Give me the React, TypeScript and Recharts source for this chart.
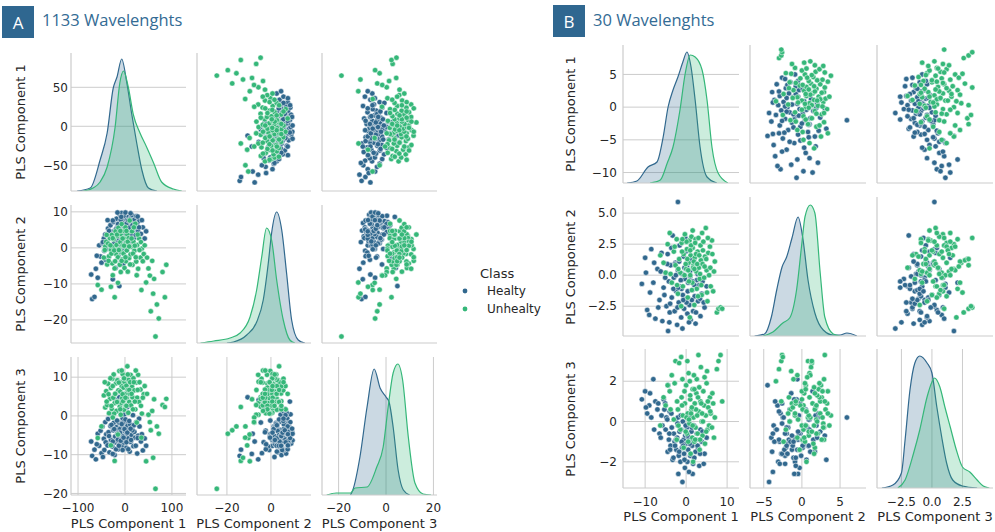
import React from 'react';
import { ComposedChart, Scatter, Area, XAxis, YAxis, CartesianGrid } from 'recharts';

const HEALTY = '#31688e';
const UNHEALTY = '#35b779';
const GRID = '#cccccc';
const INK = '#262626';
const BADGE = '#2f6790';

const classNames = ['Healty', 'Unhealty'];
const componentNames = ['PLS Component 1', 'PLS Component 2', 'PLS Component 3'];

// samples: [PLS 1, PLS 2, PLS 3]
const healtyA = [
  [-72, -7.4, -6.6], [-70, -14.2, -10.3], [-65, -13.6, -8.7], [-62, -5.8, -11.2], [-58, -8.3, -4.6], [-55, 0.7, -7.7],
  [-52, -2.4, -3.8], [-50, -4.1, -9.6], [-48, 1.3, -2.7], [-45, 2.6, -5.9], [-44, -0.8, -8.8], [-42, 3.7, -1.6],
  [-40, -0.3, -4.7], [-38, 1.8, -7.3], [-36, 5.4, -0.8], [-35, -2.7, -4.2], [-33, 3.2, -9.4], [-31, 6.3, -2.6],
  [-30, 0.6, -6.2], [-28, 4.4, 0.3], [-27, -1.3, -7.9], [-25, 7.2, -3.7], [-24, 2.3, -1.8], [-22, 4.8, -10.1],
  [-21, -0.4, -5.3], [-20, 3.3, -6.8], [-18, 8.1, -2.9], [-17, 5.7, 1.2], [-16, 1.6, -6.4], [-15, 4.2, -3.6],
  [-14, -2.3, -8.6], [-13, 6.8, -1.7], [-12, 5.3, -4.8], [-11, 9.2, -7.1], [-10, 2.8, -3.3], [-9, 6.4, 1.8],
  [-8, 0.9, -5.7], [-7, 9.7, -4.3], [-6, 3.6, -7.6], [-5, 7.4, -0.6], [-4, 1.7, -5.2], [-3, 8.3, -2.8],
  [-2, 4.7, -6.9], [-1, 8.9, 0.4], [0, 3.1, -3.9], [1, 9.8, -6.3], [2, 6.2, -1.9], [3, 4.3, -8.2],
  [4, 7.7, -4.6], [5, 1.9, -2.6], [6, 7.1, 0.8], [7, 4.6, -5.8], [8, 8.6, -3.7], [10, 2.7, -9.2],
  [11, 5.9, -2.2], [12, 8.2, -6.7], [14, 3.8, -4.9], [15, 9.1, -3.2], [17, 6.6, 0.2], [18, 4.9, -7.8],
  [20, 7.8, -4.1], [22, 5.6, -5.6], [24, 8.8, -1.6], [26, 6.9, -9.7], [28, 4.6, -5.1], [31, 7.6, -2.7],
  [34, 3.9, -6.6], [38, 5.7, -8.9], [42, 2.6, -5.8], [-8, -3.7, 3.2], [-20, -5.6, 4.1], [5, -2.8, 2.3],
  [-12, -10.6, 4.8], [-26, -8.7, -9.8], [-4, -4.6, -1.7],
  [-34, 4.7, -5.2], [-29, 2.8, -2.3], [-26, 7.6, -6.6], [-23, 1.2, -3.4], [-19, 5.2, -8.6], [-17, -0.3, -1.2],
  [-15, 6.6, -6.1], [-13, 2.6, -7.7], [-11, 0.7, -4.3], [-9, 7.8, -6.4], [-7, 2.3, -2.1], [-5, 5.1, -8.8],
  [-3, -0.4, -5.6], [-1, 5.8, -3.4], [1, 3.7, -0.9], [3, 6.7, -6.8], [5, 5.3, -4.3], [7, 7.6, -8.6],
  [9, 5.6, -1.3], [13, 1.8, -6.2], [16, 6.3, -3.7], [19, 2.7, -2.4], [23, 3.6, -7.7], [27, 8.7, -5.7],
  [30, 5.7, -0.7], [-41, -3.3, -6.8], [-47, 1.6, -10.6], [-60, -2.2, -7.3], [-37, 7.7, -7.6], [-8, 8.6, 3.7],
  [-16, 9.8, -4.6], [12, 9.6, -3.3], [36, 7.7, -4.7], [45, 4.6, -7.7],
];

const unhealtyA = [
  [-45, -2.7, 5.3], [-42, 0.4, 2.2], [-40, 1.7, 6.4], [-38, -4.6, 2.8], [-36, 1.2, 8.3], [-34, -2.3, 0.7],
  [-32, 2.7, 4.4], [-30, -0.6, 7.2], [-28, 3.6, 1.8], [-27, -4.3, 9.6], [-25, 0.2, 4.7], [-24, 2.4, 10.7],
  [-22, -5.7, 3.3], [-20, 4.6, 5.8], [-19, -1.7, 8.4], [-18, 0.8, 1.3], [-16, 3.3, 9.2], [-15, -2.6, 3.7],
  [-14, 5.6, 6.6], [-12, -0.3, 11.6], [-11, -4.7, 2.4], [-10, 1.6, 6.3], [-9, 3.8, 8.7], [-8, -1.2, 3.4],
  [-7, 6.6, 7.7], [-6, -3.2, 4.6], [-5, 0.7, 10.8], [-4, 4.7, 3.8], [-3, -1.6, 7.3], [-2, 2.7, 1.6],
  [-1, -5.6, 8.8], [0, 0.3, 5.7], [1, 5.7, 9.6], [2, -3.7, 2.7], [3, 1.6, 7.8], [4, -0.7, 4.6],
  [5, 3.7, 12.8], [6, -6.6, 6.7], [7, 0.6, 0.8], [8, 2.7, 9.3], [9, -2.8, 3.6], [10, 7.6, 5.7],
  [12, -1.8, 10.6], [13, 0.3, 2.7], [15, 4.6, 7.6], [16, -4.7, 4.8], [18, 1.7, 9.7], [20, -0.8, 6.6],
  [22, 6.7, 1.7], [24, -3.8, 8.6], [26, 0.8, 4.7], [28, -5.8, 10.6], [30, 2.6, 3.6], [33, -2.7, 6.8],
  [36, -0.2, 0.6], [40, -1.7, 5.6], [-58, -10.3, -5.7], [-50, -11.6, -2.7], [-30, -10.8, -7.6], [-22, -13.7, -11.6],
  [-15, -9.7, -4.8], [25, -7.6, -1.7], [35, -11.7, -5.6], [45, -9.6, -11.7], [50, -5.7, 0.3], [55, -17.6, -3.7],
  [60, -12.7, -10.8], [62, -8.6, 4.3], [65, -24.6, -18.8], [68, -15.7, -2.7], [72, -19.6, -4.6], [80, -6.7, 2.8],
  [85, -13.7, 2.3], [88, -4.7, 4.4],
  [-43, -0.6, 8.7], [-39, 3.6, 3.7], [-35, -3.6, 5.6], [-31, 0.7, 9.7], [-29, -1.6, 2.6], [-26, 2.7, 7.7],
  [-23, -0.7, 0.6], [-21, -3.7, 5.7], [-17, 3.7, 3.6], [-13, -0.6, 8.6], [-10, 4.7, 1.7], [-7, -3.6, 11.7],
  [-5, 2.6, 5.6], [-2, 0.6, 9.7], [1, -2.6, 4.7], [3, 4.7, 2.6], [6, 1.7, 10.7], [9, 0.4, 6.7],
  [11, -4.6, 8.7], [14, 2.6, 5.7], [17, -1.6, 1.7], [19, 5.7, 8.7], [21, 0.6, 3.7], [23, -2.6, 11.7],
  [27, 3.7, 6.7], [31, -0.6, 8.7], [34, 1.6, 2.6], [38, -3.7, 4.7], [42, 0.7, 7.7], [47, -2.7, 5.7],
  [-9, -6.7, 0.3], [-26, -7.6, -0.4], [53, -7.7, -1.6], [58, -3.6, 1.3],
];

const healtyB = [
  [-10.8, -0.7, 1.1], [-10, 1.4, 1.5], [-9.5, -2.8, 0.4], [-9, -3.2, 0.8], [-8.5, 2.1, 0.2],
  [-8, -0.6, 2.1], [-7.5, -3.5, 1.0], [-7, 0.5, 0.6], [-6.5, -2.0, -0.6], [-6, 1.8, 0.3],
  [-5.8, -3.7, -0.2], [-5.5, -1.0, 1.1], [-5, 0.2, -0.4], [-4.8, -2.5, 0.2], [-4.5, 1.7, -1.5],
  [-4.2, -0.5, -0.9], [-4, -3.0, 0.5], [-3.8, 0.8, -1.2], [-3.5, -1.8, -0.3], [-3.3, 3.2, -1.9],
  [-3, -0.2, -0.6], [-2.8, -2.9, -1.0], [-2.6, 1.0, 0.1], [-2.4, -1.3, -1.4], [-2.2, -4.0, -0.8],
  [-2, 0.4, -0.2], [-1.8, -2.2, -1.7], [-1.6, 2.4, -0.5], [-2, 5.9, 0.2], [-1.4, -0.9, -2.0],
  [-1.2, -3.4, -0.4], [-1, 0.1, -1.3], [-0.9, -4.3, -3.0], [-0.8, -1.6, 0.0], [-0.6, 1.5, -0.9],
  [-0.5, -2.7, -1.6], [-0.3, -0.3, -2.3], [-0.2, 3.0, -0.7], [0, -1.9, -1.1], [0.2, 0.7, -0.3],
  [0.3, -3.1, -2.0], [0.5, -0.6, -1.4], [0.6, 2.0, -0.8], [0.8, -2.4, 0.2], [1, -0.1, -1.7],
  [1.1, -3.6, -1.0], [1.3, 1.2, -0.5], [1.5, -1.2, -1.2], [1.7, -2.9, -2.1], [1.9, 0.5, -0.2],
  [2.1, -1.7, -0.9], [2.3, -3.9, -1.5], [2.6, -0.4, -0.6], [2.9, -2.1, -1.3], [3.2, -0.8, -2.2],
  [3.5, -3.3, -0.4], [3.8, -1.5, -1.0], [4.5, -2.6, -1.6], [5, -0.9, -0.8], [-4.4, -4.5, 1.8],
  [-1.1, -1.1, -1.0], [0.1, -2.2, -0.6], [-2.7, 0.9, -1.2], [1.6, -0.5, -2.6],
  [-9.8, 0.2, 0.7], [-8.8, -1.4, 1.4], [-7.8, 1.0, -0.4], [-6.8, -2.6, 0.9], [-6.2, 0.3, -0.8],
  [-5.3, -1.6, 0.6], [-4.6, 0.9, 0.1], [-3.9, -2.3, -1.4], [-3.6, 2.2, 0.4], [-3.1, -1.1, -1.8],
  [-2.5, 0.0, -0.9], [-2.1, -2.6, -0.1], [-1.7, 1.1, -1.5], [-1.3, -0.4, 0.3], [-0.7, -2.0, -1.2],
  [-0.4, 0.6, -1.9], [0.4, -1.3, -0.7], [0.9, 0.3, -1.1], [1.4, -2.0, -0.3], [2.0, -0.8, -1.8],
  [2.4, -3.0, -0.9], [2.8, 0.1, -1.2], [3.4, -1.9, -1.6], [4.0, -0.5, -0.5], [4.3, -2.2, -2.1],
  [-4.1, -3.8, -0.6], [-1.9, -1.0, -2.6], [0.7, -3.8, -2.5], [-5.1, -0.2, 0.9], [-0.1, 1.9, -0.2],
];

const unhealtyB = [
  [-6.3, 1.6, -0.2], [-5, 0.2, 0.8], [-4.5, 2.5, 1.8], [-4, 3.4, 1.5], [-3.5, -0.6, 2.3],
  [-3, 1.9, 0.1], [-2.6, 0.8, 3.0], [-2.3, 2.9, -0.9], [-2, -1.5, 0.6], [-1.7, 1.3, 2.9],
  [-1.4, 0.2, -0.4], [-1.1, 2.6, 1.2], [-0.8, -0.9, 0.3], [-0.6, 1.7, -1.3], [-0.3, 3.3, 0.9],
  [0, 0.5, 1.8], [0.2, 2.1, -0.6], [0.4, -1.8, 0.4], [0.6, 1.0, 2.4], [0.8, 2.8, -0.1],
  [1, 0.0, 1.1], [1.1, 1.6, -1.6], [1.3, 3.1, 0.6], [1.5, -0.6, -0.8], [1.6, 2.2, 1.6],
  [1.8, 0.8, 0.2], [2, -2.4, -1.0], [2.1, 1.4, 0.9], [2.3, 2.9, -0.3], [2.5, 0.3, 1.4],
  [2.6, -1.1, 2.1], [2.8, 1.9, -0.6], [3, 3.0, 3.3], [3.1, 0.6, 0.5], [3.3, -0.3, -1.4],
  [3.5, 2.4, 1.0], [3.6, 1.2, 2.7], [3.8, -1.6, 0.0], [4, 0.9, -0.7], [4.2, 2.7, 1.5],
  [4.4, -0.2, 0.8], [4.6, 1.5, -1.1], [4.8, 3.8, 0.3], [5, 0.4, 1.9], [5.2, -2.1, -0.4],
  [5.4, 1.8, 0.7], [5.6, 0.0, -0.2], [5.8, 2.3, 1.2], [6, -0.9, 0.4], [6.3, 2.8, -0.3],
  [6.6, -1.3, 0.9], [7, 1.1, 0.2], [7.5, -3.0, 2.6], [7.9, -2.7, 3.0], [8.4, -2.6, 3.3],
  [8.8, -2.7, 1.0], [-1.2, -2.5, 3.2], [0.9, -3.4, 2.0], [1.7, 0.6, -2.0], [0.3, 1.3, 3.0],
  [2.4, 1.7, 0.6], [3.4, 0.1, -0.9], [1.2, 2.4, 0.4], [-0.1, 0.9, -0.5],
  [-5.5, 1.0, 1.2], [-3.8, 0.1, 0.6], [-2.8, 2.3, 1.9], [-1.9, 0.5, -0.2], [-1.0, 1.9, 0.8],
  [-0.4, 0.0, 1.5], [0.1, 2.7, 0.2], [0.5, 0.4, -1.0], [1.0, 2.0, 1.3], [1.4, -1.2, 0.7],
  [1.9, 1.1, 2.3], [2.2, 2.6, -0.9], [2.7, 0.9, 0.3], [3.2, 1.6, 1.7], [3.7, -0.8, 0.9],
  [4.1, 2.0, 0.0], [4.5, 0.7, 2.2], [4.9, 1.3, -0.5], [5.3, 3.0, 1.0], [5.9, 0.6, 0.5],
  [6.4, 1.7, 1.4], [6.8, 0.3, -0.8], [-2.2, -0.8, 1.0], [0.7, -0.5, 0.1], [2.9, -1.7, 1.2],
  [3.9, 3.4, 0.4], [1.6, 3.6, -0.2], [-0.9, 2.9, 2.1], [5.1, -1.4, 2.5], [2.0, 0.5, 1.6],
];

// KDE curves: [value, height]
const kdeA = [
  {
    h: [[-102, 0], [-74, 3], [-53, 31], [-38, 58], [-25, 103], [-17, 114], [-7, 132], [4, 108], [14, 78], [25, 48], [36, 21], [50, 3], [68, 0]],
    u: [[-89, 0], [-68, 3], [-53, 9], [-38, 24], [-21, 64], [-11, 108], [-3, 120], [7, 104], [18, 76], [32, 58], [46, 44], [61, 28], [78, 9], [103, 2], [121, 0]],
  },
  {
    h: [[-20, 0], [-17, 1], [-11, 8], [-6.5, 21], [-3.5, 43], [-1.2, 80], [0.3, 110], [2.6, 131], [4.9, 113], [7.1, 70], [9.4, 23], [12.4, 3], [15.4, 0]],
    u: [[-32, 0], [-26, 2], [-18.6, 5], [-14, 10], [-9.5, 26], [-6.5, 53], [-4.2, 86], [-2, 115], [0.3, 103], [2.6, 63], [5.6, 23], [8.6, 3], [10.9, 0]],
  },
  {
    h: [[-15, 0], [-14, 5], [-11, 38], [-8, 88], [-5, 126], [-2.5, 107], [0, 98], [1.3, 93], [3, 68], [5.1, 25], [7.3, 5], [10, 0]],
    u: [[-25, 0], [-21, 2], [-15, 2], [-13, 7], [-8, 8], [-3.9, 28], [-1.2, 48], [0.9, 88], [3, 122], [5, 131], [7, 115], [9.4, 58], [12.2, 12], [15.6, 1], [19, 0]],
  },
];

const kdeB = [
  {
    h: [[-14.4, 0], [-12, 2], [-9.3, 16], [-7.1, 21], [-5.6, 46], [-4.4, 76], [-3.2, 93], [-2, 106], [-0.8, 121], [0.2, 131], [1.2, 116], [2.2, 83], [3.4, 36], [5.1, 6], [7.5, 0]],
    u: [[-8.8, 0], [-6.3, 3], [-4.6, 20], [-3.2, 36], [-1.5, 73], [-0.2, 110], [1, 128], [2.2, 126], [3.9, 113], [5.1, 83], [6.3, 36], [7.8, 10], [10.2, 0]],
  },
  {
    h: [[-6.2, 0], [-4.9, 2], [-4, 19], [-3.3, 46], [-2.6, 69], [-2, 79], [-1.3, 98], [-0.5, 119], [0.1, 99], [0.8, 56], [1.7, 23], [2.8, 6], [4.1, 1], [5, 1], [5.9, 3], [7.2, 0]],
    u: [[-5.1, 0], [-3.8, 4], [-2.5, 13], [-1.6, 18], [-0.7, 46], [0, 93], [0.4, 119], [1.1, 131], [1.7, 123], [2.4, 63], [3, 19], [4.1, 2], [5, 0]],
  },
  {
    h: [[-4.1, 0], [-3.2, 3], [-2.5, 15], [-2.2, 48], [-1.8, 98], [-1.4, 125], [-1, 132], [-0.4, 125], [0, 115], [0.4, 81], [0.8, 51], [1.2, 25], [1.7, 8], [2.5, 2], [3.7, 0]],
    u: [[-2.8, 0], [-2.2, 8], [-1.5, 35], [-1, 58], [-0.4, 91], [0, 106], [0.2, 110], [0.65, 101], [1.06, 81], [1.5, 61], [2, 38], [2.5, 21], [3.1, 16], [3.7, 8], [4.2, 2], [4.7, 0]],
  },
];

// axis ticks and ranges per component
const ticksA = [[-100, 0, 100], [-20, 0], [-20, 0, 20]];
const rowTicksA = [[-50, 0, 50], [-20, -10, 0, 10], [-20, -10, 0, 10]];
const ticksB = [[-10, 0, 10], [-5, 0, 5], [-2.5, 0, 2.5]];
const rowTicksB = [[-10, -5, 0, 5], [-2.5, 0, 2.5, 5], [-2, 0, 2]];

const panelA = {
  title: '1133 Wavelenghts', badge: 'A', badgeX: 2, badgeY: 6, titleX: 42,
  cols: [{ left: 71, w: 115 }, { left: 197, w: 114 }, { left: 322, w: 115 }],
  rows: [{ top: 53, h: 138 }, { top: 205, h: 138 }, { top: 357, h: 138 }],
  xDomains: [[-115, 130], [-33.6, 18.2], [-27, 21.5]],
  yDomains: [[-83, 94], [-26.4, 11.9], [-20.4, 15.2]],
  xTicks: ticksA, yTicks: rowTicksA, xDigits: [0, 0, 0], yDigits: [0, 0, 0],
  yTickMargin: 3, xTickMargin: 8, yLabelX: 20, xLabelY: 523,
};

const panelB = {
  title: '30 Wavelenghts', badge: 'B', badgeX: 553, badgeY: 5, titleX: 593,
  cols: [{ left: 623, w: 116 }, { left: 750, w: 116 }, { left: 877, w: 116 }],
  rows: [{ top: 45, h: 138 }, { top: 197, h: 139 }, { top: 349, h: 139 }],
  xDomains: [[-15.4, 12.9], [-6.8, 8.4], [-4.5, 5.0]],
  yDomains: [[-11.6, 9.5], [-4.9, 6.3], [-3.3, 3.6]],
  xTicks: ticksB, yTicks: rowTicksB, xDigits: [0, 0, 1], yDigits: [0, 1, 0],
  yTickMargin: 6, xTickMargin: 9, yLabelX: 570, xLabelY: 516,
};

const fmt = (digits: number) => (v: number) => v.toFixed(digits).replace('-', '\u2212');

const kdeRows = (k: any) =>
  [...k.h.map(([x, v]: number[]) => ({ x, h: v })), ...k.u.map(([x, v]: number[]) => ({ x, u: v }))].sort(
    (a, b) => a.x - b.x
  );

const dot = (color: string) => (props: any) =>
  <circle cx={props.cx} cy={props.cy} r={2.7} fill={color} stroke="#ffffff" strokeWidth={0.5} />;

const tickStyle = { fontSize: 12, fill: INK, fontFamily: 'DejaVu Sans' };

const YW = 50;
const XH = 30;
const PAD_T = 6;
const PAD_R = 14;

function PairCell({ i, j, cfg, healty, unhealty, kde }: any) {
  const col = cfg.cols[j];
  const row = cfg.rows[i];
  const diag = i === j;
  const showX = i === 2;
  const showY = j === 0;
  const toXY = (s: number[]) => ({ x: s[j], y: s[i] });

  return (
    <div style={{ position: 'absolute', left: col.left - YW, top: row.top - PAD_T }}>
      <ComposedChart
        width={YW + col.w + PAD_R}
        height={PAD_T + row.h + XH}
        margin={{ top: PAD_T, right: PAD_R, left: 0, bottom: 0 }}
        data={diag ? kdeRows(kde[j]) : undefined}
      >
        <CartesianGrid stroke={GRID} strokeWidth={1} syncWithTicks />
        <XAxis
          type="number"
          dataKey="x"
          domain={cfg.xDomains[j]}
          ticks={cfg.xTicks[j]}
          interval={0}
          allowDataOverflow
          height={XH}
          tick={showX ? tickStyle : false}
          tickFormatter={fmt(cfg.xDigits[j])}
          tickLine={false}
          tickSize={0}
          tickMargin={cfg.xTickMargin}
          axisLine={{ stroke: GRID, strokeWidth: 1.2 }}
        />
        <YAxis
          type="number"
          dataKey="y"
          domain={cfg.yDomains[i]}
          ticks={cfg.yTicks[i]}
          interval={0}
          allowDataOverflow
          width={YW}
          tick={showY ? tickStyle : false}
          tickFormatter={fmt(cfg.yDigits[i])}
          tickLine={false}
          tickSize={0}
          tickMargin={cfg.yTickMargin}
          axisLine={{ stroke: GRID, strokeWidth: 1.2 }}
        />
        {diag && <YAxis yAxisId="d" hide type="number" domain={[0, row.h]} allowDataOverflow />}
        {diag && (
          <Area yAxisId="d" type="monotone" dataKey="h" stroke={HEALTY} strokeWidth={1.2} fill={HEALTY}
            fillOpacity={0.25} connectNulls dot={false} activeDot={false} isAnimationActive={false} />
        )}
        {diag && (
          <Area yAxisId="d" type="monotone" dataKey="u" stroke={UNHEALTY} strokeWidth={1.2} fill={UNHEALTY}
            fillOpacity={0.25} connectNulls dot={false} activeDot={false} isAnimationActive={false} />
        )}
        {!diag && <Scatter data={healty.map(toXY)} shape={dot(HEALTY)} isAnimationActive={false} />}
        {!diag && <Scatter data={unhealty.map(toXY)} shape={dot(UNHEALTY)} isAnimationActive={false} />}
      </ComposedChart>
    </div>
  );
}

function PairPanel({ cfg, healty, unhealty, kde }: any) {
  const cells = [];
  for (let i = 0; i < 3; i++) {
    for (let j = 0; j < 3; j++) {
      cells.push(<PairCell key={`${i}-${j}`} i={i} j={j} cfg={cfg} healty={healty} unhealty={unhealty} kde={kde} />);
    }
  }
  return (
    <>
      <div style={{
        position: 'absolute', left: cfg.badgeX, top: cfg.badgeY, width: 32, height: 32, background: BADGE,
        color: '#fff', fontFamily: 'Open Sans', fontSize: 17, display: 'flex', alignItems: 'center', justifyContent: 'center',
      }}>{cfg.badge}</div>
      <div style={{
        position: 'absolute', left: cfg.titleX, top: 10, fontFamily: 'Open Sans', fontSize: 16.5, lineHeight: '20px',
        color: '#336b94', whiteSpace: 'nowrap',
      }}>{cfg.title}</div>
      {cells}
      {componentNames.map((name, i) => (
        <div key={`yl${i}`} style={{
          position: 'absolute', left: cfg.yLabelX, top: cfg.rows[i].top + cfg.rows[i].h / 2, fontSize: 13, lineHeight: 1,
          color: INK, whiteSpace: 'nowrap', transform: 'translate(-50%, -50%) rotate(-90deg)',
        }}>{name}</div>
      ))}
      {componentNames.map((name, j) => (
        <div key={`xl${j}`} style={{
          position: 'absolute', left: cfg.cols[j].left + cfg.cols[j].w / 2, top: cfg.xLabelY, fontSize: 13, lineHeight: 1,
          color: INK, whiteSpace: 'nowrap', transform: 'translate(-50%, -50%)',
        }}>{name}</div>
      ))}
    </>
  );
}

export default function App() {
  const legendColors = [HEALTY, UNHEALTY];
  return (
    <div style={{
      position: 'absolute', left: 0, top: 0, width: 995, height: 532, overflow: 'hidden', background: '#fff',
      fontFamily: 'DejaVu Sans',
    }}>
      <PairPanel cfg={panelA} healty={healtyA} unhealty={unhealtyA} kde={kdeA} />
      <PairPanel cfg={panelB} healty={healtyB} unhealty={unhealtyB} kde={kdeB} />
      <div style={{ position: 'absolute', left: 480, top: 273, fontSize: 13, lineHeight: 1, color: INK, transform: 'translateY(-50%)' }}>
        Class
      </div>
      {classNames.map((name, k) => (
        <div key={name} style={{ position: 'absolute', left: 461, top: 291 + k * 17.5, display: 'flex', alignItems: 'center', transform: 'translateY(-50%)' }}>
          <svg width={8} height={8}><circle cx={4} cy={4} r={2.4} fill={legendColors[k]} /></svg>
          <span style={{ marginLeft: 18, fontSize: 12, lineHeight: 1, color: INK }}>{name}</span>
        </div>
      ))}
    </div>
  );
}
